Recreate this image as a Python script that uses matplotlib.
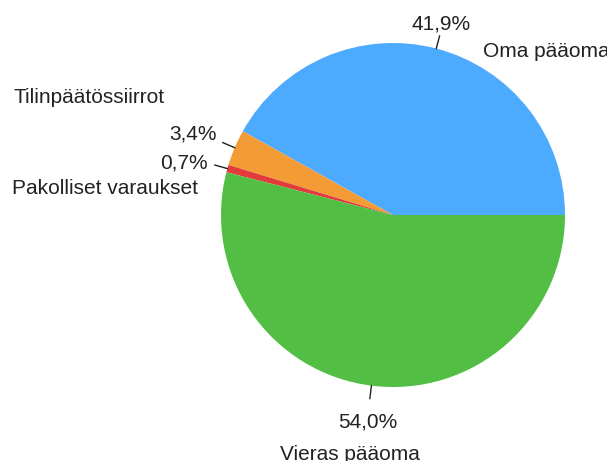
import numpy as np
import matplotlib
matplotlib.use("Agg")
import matplotlib.pyplot as plt

# Taseen rakenne (%)
labels = ["Oma pääoma", "Tilinpäätössiirrot", "Pakolliset varaukset", "Vieras pääoma"]
values = [41.9, 3.4, 0.7, 54.0]
colors = ["#4DABFF", "#F39C36", "#E23B3B", "#52BF44"]

W, H = 607, 461
cx, cy, r = 393, H - 215, 172

# layout: percent label distance, name label anchors (x, baseline y from top, ha)
pct_r = [192, 192, 192, 199]
name_pos = [(483, 57, "left"), (13, 103, "left"), (12, 194, "left"), (350, 460, "center")]

plt.rcParams["font.family"] = ["Liberation Sans", "DejaVu Sans"]

fig = plt.figure(figsize=(W / 100, H / 100), dpi=100)
ax = fig.add_axes([0, 0, 1, 1])
wedges, _ = ax.pie(values, colors=colors, startangle=0, counterclock=True,
                   center=(cx, cy), radius=r, wedgeprops=dict(linewidth=0))
ax.set_xlim(0, W)
ax.set_ylim(0, H)
ax.set_aspect("auto")
ax.axis("off")

for i, w in enumerate(wedges):
    th = np.deg2rad((w.theta1 + w.theta2) / 2)
    c, s = np.cos(th), np.sin(th)
    # leader line
    ax.plot([cx + r * c, cx + (r + 13) * c], [cy + r * s, cy + (r + 13) * s],
            color="#222222", lw=1)
    ha = "right" if c < -0.3 else ("left" if c > 0.3 else "center")
    va = "baseline" if s > 0.3 else ("top" if s < -0.3 else "center")
    txt = ("%.1f%%" % values[i]).replace(".", ",")
    ax.text(cx + pct_r[i] * c, cy + pct_r[i] * s, txt, ha=ha, va=va,
            fontsize=15, color="#222222")
    nx, ny, nha = name_pos[i]
    ax.text(nx, H - ny, labels[i], ha=nha, va="baseline", fontsize=15, color="#222222")

fig.savefig("out.png", dpi=100, facecolor="white")
